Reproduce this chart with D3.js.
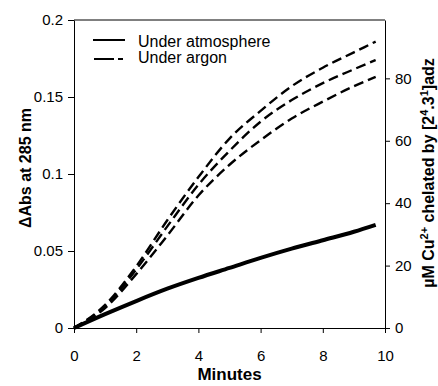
<!DOCTYPE html>
<html>
<head>
<meta charset="utf-8">
<script src="https://cdn.jsdelivr.net/npm/d3@7"></script>
<style>
  body { margin: 0; background: #fff; }
  svg { display: block; font-family: "Liberation Sans", Arial, sans-serif; }
  .axis text { font-size: 15px; fill: #000; }
  .axis path, .axis line { stroke: #000; stroke-width: 1; }
</style>
</head>
<body>
<div id="chart"></div>
<script>
// data
const minutes = [0, 1, 2, 3, 4, 5, 6, 7, 8, 9, 9.7];
const atmosphere = [0, 0.009, 0.0175, 0.0255, 0.0325, 0.039, 0.0455, 0.0515, 0.057, 0.0625, 0.067];
const argonA = [0, 0.015, 0.040, 0.070, 0.098, 0.123, 0.141, 0.157, 0.169, 0.179, 0.186];
const argonB = [0, 0.014, 0.038, 0.066, 0.093, 0.115, 0.134, 0.148, 0.159, 0.168, 0.174];
const argonC = [0, 0.013, 0.035, 0.060, 0.086, 0.106, 0.122, 0.136, 0.147, 0.157, 0.163];
const xTicks = [0, 2, 4, 6, 8, 10];
const yTicks = [0, 0.05, 0.1, 0.15, 0.2];
const y2Ticks = [0, 20, 40, 60, 80];
const legendLabels = ['Under atmosphere', 'Under argon'];

const W = 438, H = 386;
const plot = { left: 74, right: 385, top: 20, bottom: 328 };

const svg = d3.select('#chart').append('svg')
  .attr('width', W)
  .attr('height', H);

const x = d3.scaleLinear().domain([0, 10]).range([plot.left, plot.right]);
const y = d3.scaleLinear().domain([0, 0.2]).range([plot.bottom, plot.top]);
const y2 = d3.scaleLinear().domain([0, 98.7]).range([plot.bottom, plot.top]);

// top border
svg.append('line')
  .attr('x1', plot.left).attr('x2', plot.right)
  .attr('y1', plot.top).attr('y2', plot.top)
  .attr('stroke', '#000');

svg.append('g')
  .attr('class', 'axis')
  .attr('transform', `translate(0,${plot.bottom})`)
  .call(d3.axisBottom(x).tickValues(xTicks).tickSize(5).tickSizeOuter(0).tickPadding(17).tickFormat(d => d));

svg.append('g')
  .attr('class', 'axis')
  .attr('transform', `translate(${plot.left},0)`)
  .call(d3.axisLeft(y).tickValues(yTicks).tickSize(6).tickSizeOuter(0).tickPadding(5).tickFormat(d => String(d)));

svg.append('g')
  .attr('class', 'axis')
  .attr('transform', `translate(${plot.right},0)`)
  .call(d3.axisRight(y2).tickValues(y2Ticks).tickSize(5).tickSizeOuter(0).tickPadding(5).tickFormat(d => d));

const line = d3.line()
  .x((d, i) => x(minutes[i]))
  .y(d => y(d))
  .curve(d3.curveMonotoneX);

[argonA, argonB, argonC].forEach(s => {
  svg.append('path')
    .datum(s)
    .attr('d', line)
    .attr('fill', 'none')
    .attr('stroke', '#000')
    .attr('stroke-width', 2.4)
    .attr('stroke-dasharray', '10,5');
});

svg.append('path')
  .datum(atmosphere)
  .attr('d', line)
  .attr('fill', 'none')
  .attr('stroke', '#000')
  .attr('stroke-width', 4);

// legend
const legend = svg.append('g');
legend.append('line')
  .attr('x1', 93).attr('x2', 125).attr('y1', 40).attr('y2', 40)
  .attr('stroke', '#000').attr('stroke-width', 2);
legend.append('line')
  .attr('x1', 94).attr('x2', 123).attr('y1', 59).attr('y2', 59)
  .attr('stroke', '#000').attr('stroke-width', 2)
  .attr('stroke-dasharray', '20,4');
legend.selectAll('text.leg')
  .data(legendLabels)
  .enter()
  .append('text')
  .attr('class', 'leg')
  .attr('x', 138)
  .attr('y', (d, i) => 47 + i * 16)
  .style('font-size', '16px')
  .text(d => d);

// axis titles
svg.append('text')
  .attr('x', (plot.left + plot.right) / 2)
  .attr('y', 380)
  .attr('text-anchor', 'middle')
  .style('font-size', '17px')
  .style('font-weight', 'bold')
  .text('Minutes');

svg.append('text')
  .attr('transform', 'translate(31,168) rotate(-90)')
  .attr('text-anchor', 'middle')
  .style('font-size', '16px')
  .style('font-weight', 'bold')
  .text('ΔAbs at 285 nm');

const rt = svg.append('text')
  .attr('transform', 'translate(434,173) rotate(-90)')
  .attr('text-anchor', 'middle')
  .style('font-size', '16px')
  .style('font-weight', 'bold');
rt.append('tspan').text('µM Cu');
rt.append('tspan').attr('dy', -6).style('font-size', '11px').text('2+');
rt.append('tspan').attr('dy', 6).text(' chelated by [2');
rt.append('tspan').attr('dy', -6).style('font-size', '11px').text('4');
rt.append('tspan').attr('dy', 6).text('.3');
rt.append('tspan').attr('dy', -6).style('font-size', '11px').text('1');
rt.append('tspan').attr('dy', 6).text(']adz');
</script>
</body>
</html>
